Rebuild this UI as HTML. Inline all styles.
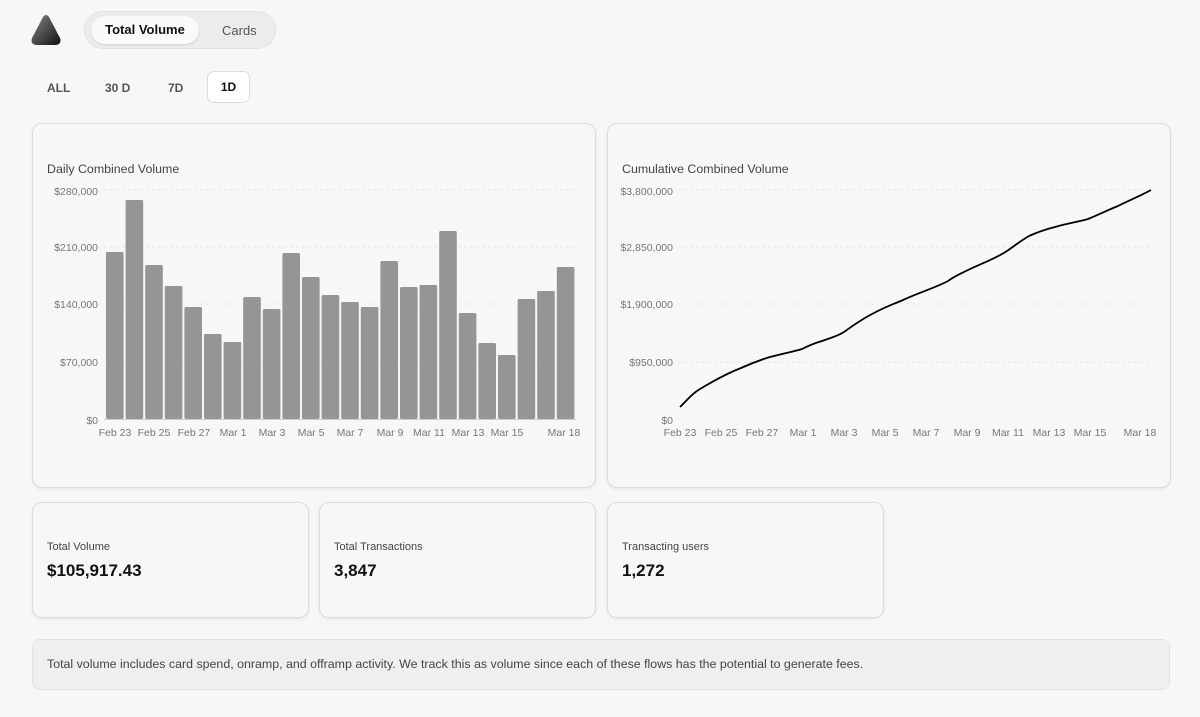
<!DOCTYPE html>
<html><head><meta charset="utf-8"><style>
body{margin:0;width:1200px;height:717px;background:#f7f7f7;font-family:"Liberation Sans",sans-serif;position:relative;overflow:hidden}
*{box-sizing:border-box}
.abs{position:absolute}
.card{position:absolute;background:#f7f7f7;border:1px solid #dcdcdc;border-radius:10px;box-shadow:0 1px 3px rgba(0,0,0,.08)}
.t{font-size:12.4px;color:#444}
.ax{font-size:10.5px;fill:#777;font-family:"Liberation Sans",sans-serif}
</style></head><body>
<svg class="abs" style="left:30px;top:14px" width="32" height="32"><defs><linearGradient id="g" x1="0" y1="0" x2="1" y2="1"><stop offset="0" stop-color="#888"/><stop offset="1" stop-color="#111"/></linearGradient></defs><path d="M13 3 Q16 -1 19 3 L30 24 Q32 30 26 31 L6 31 Q0 30 2 24 Z" fill="url(#g)"/></svg>
<div class="abs" style="left:84px;top:11px;width:192px;height:38px;border-radius:19px;background:#ececec;border:1px solid #e2e2e2"></div>
<div class="abs" style="left:91px;top:16px;width:108px;height:28px;border-radius:14px;background:#fafafa;box-shadow:0 1px 2px rgba(0,0,0,.12);font-size:13px;font-weight:bold;line-height:28px;text-align:center;color:#111">Total Volume</div>
<div class="abs" style="left:222px;top:23px;font-size:13px;color:#555">Cards</div>
<div class="abs" style="left:47px;top:81px;font-size:12px;font-weight:bold;color:#555">ALL</div>
<div class="abs" style="left:105px;top:81px;font-size:12px;font-weight:bold;color:#555">30 D</div>
<div class="abs" style="left:168px;top:81px;font-size:12px;font-weight:bold;color:#555">7D</div>
<div class="abs" style="left:207px;top:71px;width:43px;height:32px;border-radius:7px;background:#fff;border:1px solid #ddd;font-size:12px;font-weight:bold;line-height:30px;text-align:center;color:#111">1D</div>

<div class="card" style="left:32px;top:123px;width:564px;height:365px"></div>
<div class="card" style="left:607px;top:123px;width:564px;height:365px"></div>
<div class="abs t" style="left:47px;top:162px">Daily Combined Volume</div>
<div class="abs t" style="left:622px;top:162px">Cumulative Combined Volume</div>
<svg class="abs" style="left:0;top:0" width="1200" height="460">
<g stroke="#e6e6e6" stroke-dasharray="3 3"><line x1="104" x2="576" y1="190" y2="190"/><line x1="104" x2="576" y1="247" y2="247"/><line x1="104" x2="576" y1="304" y2="304"/><line x1="104" x2="576" y1="362" y2="362"/>
<line x1="678" x2="1152" y1="190" y2="190"/><line x1="678" x2="1152" y1="247" y2="247"/><line x1="678" x2="1152" y1="304" y2="304"/><line x1="678" x2="1152" y1="362" y2="362"/></g>
<g class="ax" text-anchor="end"><text x="98" y="195">$280,000</text><text x="98" y="251">$210,000</text><text x="98" y="308">$140,000</text><text x="98" y="366">$70,000</text><text x="98" y="424">$0</text></g>
<g class="ax" text-anchor="end"><text x="673" y="195">$3,800,000</text><text x="673" y="251">$2,850,000</text><text x="673" y="308">$1,900,000</text><text x="673" y="366">$950,000</text><text x="673" y="424">$0</text></g>
<line x1="104" x2="576" y1="419.5" y2="419.5" stroke="#ccc"/>
<g fill="#959595" id="bars"></g>
<g class="ax" text-anchor="middle"><text x="115" y="436">Feb 23</text><text x="154" y="436">Feb 25</text><text x="194" y="436">Feb 27</text><text x="233" y="436">Mar 1</text><text x="272" y="436">Mar 3</text><text x="311" y="436">Mar 5</text><text x="350" y="436">Mar 7</text><text x="390" y="436">Mar 9</text><text x="429" y="436">Mar 11</text><text x="468" y="436">Mar 13</text><text x="507" y="436">Mar 15</text><text x="564" y="436">Mar 18</text></g>
<g class="ax" text-anchor="middle"><text x="680" y="436">Feb 23</text><text x="721" y="436">Feb 25</text><text x="762" y="436">Feb 27</text><text x="803" y="436">Mar 1</text><text x="844" y="436">Mar 3</text><text x="885" y="436">Mar 5</text><text x="926" y="436">Mar 7</text><text x="967" y="436">Mar 9</text><text x="1008" y="436">Mar 11</text><text x="1049" y="436">Mar 13</text><text x="1090" y="436">Mar 15</text><text x="1140" y="436">Mar 18</text></g>
<path d="M680 407 C688 399 693 393 700 389 C715 380 728 373 741 368 C752 363 760 360 770 357 C785 353 792 352 802 349 C810 345 815 343 822 341 C830 338 838 336 844 332 C855 324 864 318 874 313 C885 307 894 304 903 300 C920 292 935 288 948 281 C955 276 960 274 966 271 C980 264 995 259 1007 251 C1017 244 1022 240 1029 236 C1040 231 1047 229 1055 227 C1068 223 1078 222 1088 219 C1100 214 1108 210 1118 206 C1130 200 1140 196 1151 190" fill="none" stroke="#000" stroke-width="1.8"/>
</svg>

<div class="card" style="left:32px;top:502px;width:277px;height:116px"></div>
<div class="card" style="left:319px;top:502px;width:277px;height:116px"></div>
<div class="card" style="left:607px;top:502px;width:277px;height:116px"></div>
<div class="abs" style="left:47px;top:541px;font-size:11px;color:#444">Total Volume</div>
<div class="abs" style="left:334px;top:541px;font-size:11px;color:#444">Total Transactions</div>
<div class="abs" style="left:622px;top:541px;font-size:11px;color:#444">Transacting users</div>
<div class="abs" style="left:47px;top:561px;font-size:17px;font-weight:bold;color:#111">$105,917.43</div>
<div class="abs" style="left:334px;top:561px;font-size:17px;font-weight:bold;color:#111">3,847</div>
<div class="abs" style="left:622px;top:561px;font-size:17px;font-weight:bold;color:#111">1,272</div>
<div class="abs" style="left:32px;top:639px;width:1138px;height:51px;border-radius:8px;background:#efefef;border:1px solid #e2e2e2"></div>
<div class="abs" style="left:47px;top:657px;font-size:12.4px;color:#444">Total volume includes card spend, onramp, and offramp activity. We track this as volume since each of these flows has the potential to generate fees.</div>
<script>
var tops=[252,200,265,286,307,334,342,297,309,253,277,295,302,307,261,287,285,231,313,343,355,299,291,267];
var g=document.getElementById('bars'),s='';
tops.forEach(function(t,i){var x=106+i*19.6;s+='<rect x="'+x.toFixed(1)+'" y="'+t+'" width="17.6" height="'+(419-t)+'" rx="1.5"/>';});
g.innerHTML=s;
</script>
</body></html>
